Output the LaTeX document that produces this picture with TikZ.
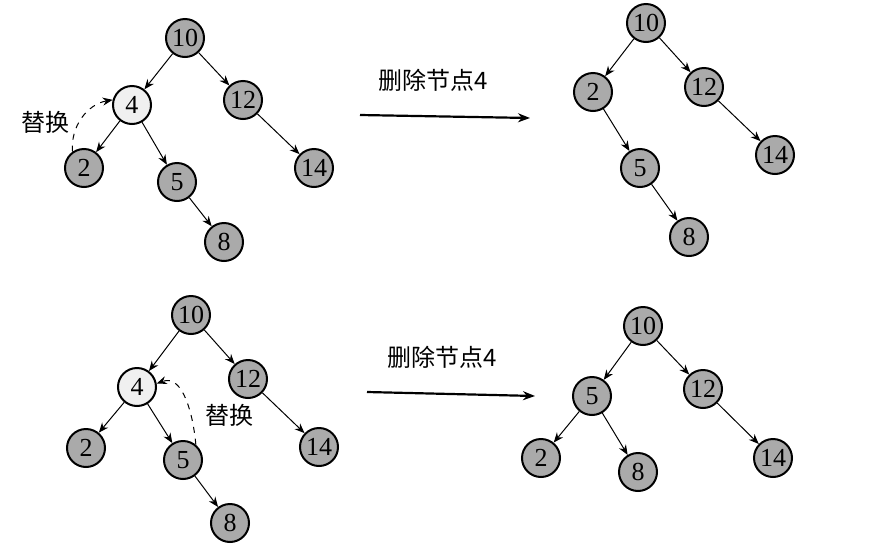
\documentclass[tikz,border=0pt]{standalone}
\usepackage{fontspec}
\setmainfont{Liberation Serif}
\newfontfamily\cjk{Noto Sans CJK SC}
\usepackage{xcolor}
\usetikzlibrary{positioning,calc,arrows.meta}

\definecolor{nodegray}{RGB}{170,170,170}
\definecolor{nodelight}{RGB}{240,240,240}

\tikzset{
    tnode/.style={circle, draw, line width=1pt, fill=nodegray, minimum size=19pt, inner sep=0pt, font=\fontsize{13}{13}\selectfont},
    hnode/.style={tnode, fill=nodelight},
    link/.style={-{Stealth[length=5pt,width=4pt]}, line width=0.5pt},
    swap/.style={-{Stealth[length=5pt,width=4pt]}, line width=0.5pt, dashed},
    bigarrow/.style={-{Stealth[length=6pt,width=4.5pt]}, line width=1.1pt},
}

\begin{document}
\begin{tikzpicture}[x=0.5pt, y=-0.5pt]
    \useasboundingbox (0,0) rectangle (869,547);

    % Before (top)
    \node[tnode] (a10) at (185,38) {10};
    \node[hnode] (a4) at (132,105) {4};
    \node[tnode] (a12) at (243,100) {12};
    \node[tnode] (a2) at (84,168) {2};
    \node[tnode] (a5) at (177,182) {5};
    \node[tnode] (a14) at (314,168) {14};
    \node[tnode] (a8) at (224,242) {8};
    \draw[link] (a10) -- (a4);
    \draw[link] (a10) -- (a12);
    \draw[link] (a4) -- (a2);
    \draw[link] (a4) -- (a5);
    \draw[link] (a12) -- (a14);
    \draw[link] (a5) -- (a8);
    \draw[swap] (a2.125) to[out=95, in=190] (a4.165);
    \node[font=\cjk\large] (ta) at (45,122) {替换};

    % Arrow (top)
    \coordinate (s1) at (360,115);
    \coordinate (e1) at (530,118);
    \draw[bigarrow] (s1) -- (e1);
    \node[font=\cjk\large] (la) at (433,80) {删除节点4};

    % After (top)
    \node[tnode] (b10) at (646,23) {10};
    \node[tnode] (b2) at (593,92) {2};
    \node[tnode] (b12) at (704,87) {12};
    \node[tnode] (b5) at (640,168) {5};
    \node[tnode] (b14) at (775,155) {14};
    \node[tnode] (b8) at (689,237) {8};
    \draw[link] (b10) -- (b2);
    \draw[link] (b10) -- (b12);
    \draw[link] (b2) -- (b5);
    \draw[link] (b12) -- (b14);
    \draw[link] (b5) -- (b8);

    % Before (bottom)
    \node[tnode] (c10) at (191,315) {10};
    \node[hnode] (c4) at (137,387) {4};
    \node[tnode] (c12) at (248,379) {12};
    \node[tnode] (c2) at (86,448) {2};
    \node[tnode] (c5) at (183,460) {5};
    \node[tnode] (c14) at (319,447) {14};
    \node[tnode] (c8) at (230,523) {8};
    \draw[link] (c10) -- (c4);
    \draw[link] (c10) -- (c12);
    \draw[link] (c4) -- (c2);
    \draw[link] (c4) -- (c5);
    \draw[link] (c12) -- (c14);
    \draw[link] (c5) -- (c8);
    \draw[swap] (c5.50) to[out=95, in=20] (c4.10);
    \node[font=\cjk\large] (tc) at (229,415) {替换};

    % Arrow (bottom)
    \coordinate (s2) at (367,392);
    \coordinate (e2) at (535,396);
    \draw[bigarrow] (s2) -- (e2);
    \node[font=\cjk\large] (lc) at (442,357) {删除节点4};

    % After (bottom)
    \node[tnode] (d10) at (643,326) {10};
    \node[tnode] (d5) at (592,396) {5};
    \node[tnode] (d12) at (703,389) {12};
    \node[tnode] (d2) at (541,458) {2};
    \node[tnode] (d8) at (638,472) {8};
    \node[tnode] (d14) at (773,458) {14};
    \draw[link] (d10) -- (d5);
    \draw[link] (d10) -- (d12);
    \draw[link] (d5) -- (d2);
    \draw[link] (d5) -- (d8);
    \draw[link] (d12) -- (d14);
\end{tikzpicture}
\end{document}
